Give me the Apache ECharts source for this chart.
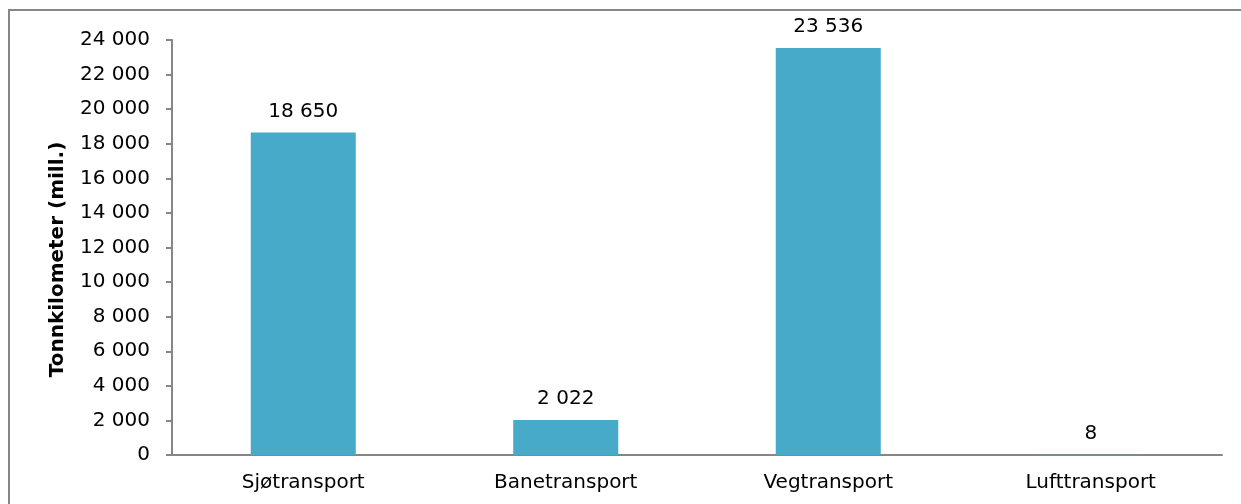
<!DOCTYPE html>
<html>
<head>
<meta charset="utf-8">
<script src="https://cdn.jsdelivr.net/npm/echarts@6/dist/echarts.min.js"></script>
<style>
  body { margin: 0; background: #fff; }
  #chart { width: 1241px; height: 504px; }
</style>
</head>
<body>
<div id="chart"></div>
<script>
  // data
  const categories = ['Sjøtransport', 'Banetransport', 'Vegtransport', 'Lufttransport'];
  const values = [18650, 2022, 23536, 8];
  const yTitle = 'Tonnkilometer (mill.)';

  const fmt = v => String(v).replace(/\B(?=(\d{3})+(?!\d))/g, ' ');
  const font = 'DejaVu Sans';
  const axisColor = '#868686';

  const chart = echarts.init(document.getElementById('chart'));
  chart.setOption({
    animation: false,
    textStyle: { fontFamily: font },
    grid: { left: 172, right: 19, top: 40, bottom: 49 },
    // outer frame: only top and left edges are inside the picture
    graphic: [{
      type: 'polyline',
      shape: { points: [[9, 600], [9, 10], [1300, 10]] },
      style: { fill: 'none', stroke: axisColor, lineWidth: 2 }
    }],
    xAxis: {
      type: 'category',
      data: categories,
      axisLine: { lineStyle: { color: axisColor, width: 2 } },
      axisTick: { length: 6, lineStyle: { color: axisColor, width: 2 } },
      axisLabel: { color: '#000', fontSize: 20, margin: 18, fontFamily: font }
    },
    yAxis: {
      type: 'value',
      min: 0, max: 24000, interval: 2000,
      name: yTitle,
      nameLocation: 'middle',
      nameGap: 104,
      nameTextStyle: {
        fontSize: 20, fontWeight: 'bold', color: '#000', fontFamily: font,
        padding: [0, 24, 0, 0]
      },
      axisLine: { show: true, lineStyle: { color: axisColor, width: 2 } },
      axisTick: { show: true, length: 6, lineStyle: { color: axisColor, width: 2 } },
      axisLabel: { color: '#000', fontSize: 20, margin: 22, fontFamily: font, formatter: fmt },
      splitLine: { show: false }
    },
    series: [{
      type: 'bar',
      data: values,
      barWidth: '40%',
      itemStyle: { color: '#47AAC9' },
      label: {
        show: true, position: 'top', distance: 11,
        color: '#000', fontSize: 20, fontFamily: font,
        formatter: p => fmt(p.value)
      }
    }]
  });
</script>
</body>
</html>
